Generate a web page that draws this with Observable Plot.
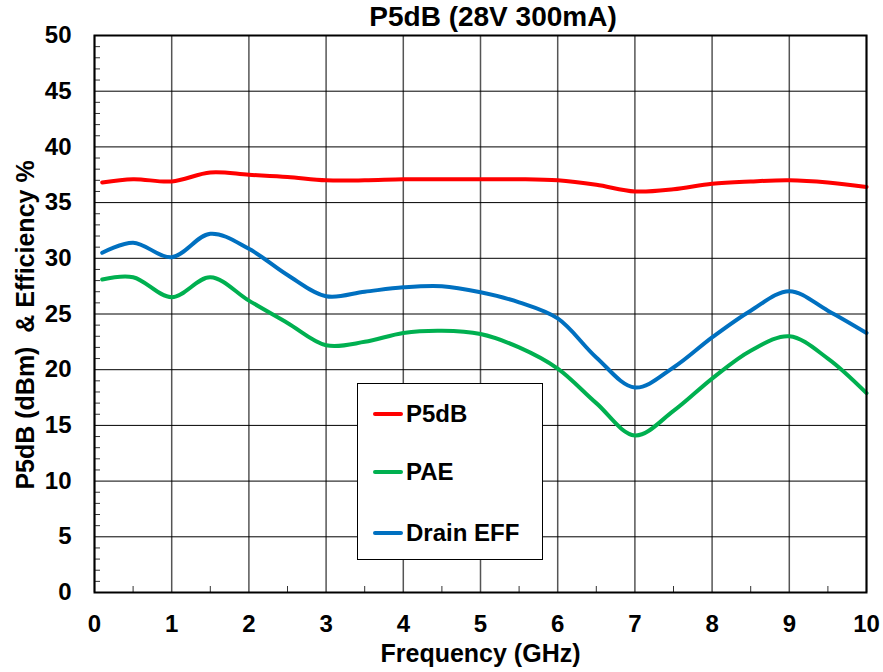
<!DOCTYPE html>
<html>
<head>
<meta charset="utf-8">
<script src="https://cdn.jsdelivr.net/npm/d3@7"></script>
<script src="https://cdn.jsdelivr.net/npm/@observablehq/plot@0.6"></script>
<style>
  html, body { margin: 0; padding: 0; background: #fff; }
  body { font-family: "Liberation Sans", Arial, sans-serif; }
  #wrap { position: relative; width: 883px; height: 672px; }
  #title { position: absolute; left: 493px; top: 3px; transform: translateX(-50%); font-size: 28px; font-weight: bold; line-height: 28px; white-space: nowrap; color: #000; }
  #legend { position: absolute; left: 357px; top: 383px; width: 184px; height: 175px; border: 1px solid #000; background: #fff; }
  .item { position: absolute; left: 0; height: 30px; }
  .swatch { position: absolute; left: 15px; top: 13px; width: 30px; height: 4px; border-radius: 2px; }
  .lab { position: absolute; left: 48px; top: 0; font-size: 24px; font-weight: bold; line-height: 30px; white-space: nowrap; color: #000; }
</style>
</head>
<body>
<div id="wrap">
  <div id="chart"></div>
  <div id="title"></div>
  <div id="legend"></div>
</div>
<script>
const titleText = "P5dB (28V 300mA)";
const xLabel = "Frequency (GHz)";
const yLabel = "P5dB (dBm)  & Efficiency %";
const seriesNames = ["P5dB", "PAE", "Drain EFF"];
const seriesColors = ["#FF0000", "#00B050", "#0070C0"];
const freq = [0.1, 0.5, 1, 1.5, 2, 2.5, 3, 3.5, 4, 4.5, 5, 5.5, 6, 6.5, 7, 7.5, 8, 8.5, 9, 9.5, 10];
const p5db = [36.8, 37.1, 36.9, 37.7, 37.5, 37.3, 37.0, 37.0, 37.1, 37.1, 37.1, 37.1, 37.0, 36.6, 36.0, 36.2, 36.7, 36.9, 37.0, 36.8, 36.4];
const pae = [28.1, 28.3, 26.5, 28.3, 26.2, 24.2, 22.2, 22.5, 23.3, 23.5, 23.2, 22.0, 20.1, 17.0, 14.1, 16.3, 19.2, 21.7, 23.0, 21.0, 17.9];
const drainEff = [30.5, 31.4, 30.1, 32.2, 30.85, 28.5, 26.6, 27.0, 27.4, 27.5, 26.95, 26.05, 24.6, 21.1, 18.4, 20.2, 22.9, 25.3, 27.05, 25.3, 23.3];
const xTicks = [0, 1, 2, 3, 4, 5, 6, 7, 8, 9, 10];
const xMinor = [0.5, 1.5, 2.5, 3.5, 4.5, 5.5, 6.5, 7.5, 8.5, 9.5];
const yTicks = [0, 5, 10, 15, 20, 25, 30, 35, 40, 45, 50];
const yMinor = d3.range(1, 50).filter(v => v % 5 !== 0);

const seriesValues = [p5db, pae, drainEff];
const rows = seriesNames.flatMap((name, i) => freq.map((f, j) => ({name, f, v: seriesValues[i][j]})));

const chart = Plot.plot({
  width: 883,
  height: 672,
  marginLeft: 94,
  marginRight: 17,
  marginTop: 35,
  marginBottom: 80,
  style: {fontFamily: "'Liberation Sans', Arial, sans-serif", background: "#fff", color: "#000"},
  x: {domain: [0, 10]},
  y: {domain: [0, 50]},
  color: {domain: seriesNames, range: seriesColors},
  marks: [
    Plot.gridX(xTicks, {stroke: "#555", strokeOpacity: 1, strokeWidth: 1.5}),
    Plot.gridY(yTicks, {stroke: "#000", strokeOpacity: 1, strokeWidth: 1}),
    Plot.axisY(yMinor, {tickSize: -6, text: null, label: null, stroke: "#333"}),
    Plot.axisX(xMinor, {tickSize: -6, text: null, label: null, stroke: "#333"}),
    Plot.axisY(yTicks, {tickSize: 0, tickPadding: 23, fontSize: 24, fontWeight: "bold", label: null}),
    Plot.axisX(xTicks, {tickSize: 0, tickPadding: 22, fontSize: 24, fontWeight: "bold", label: null}),
    Plot.line(rows, {x: "f", y: "v", z: "name", stroke: "name", strokeWidth: 4, curve: "catmull-rom"}),
    Plot.frame({stroke: "#000", strokeWidth: 2}),
    Plot.text([xLabel], {frameAnchor: "bottom", textAnchor: "middle", lineAnchor: "middle", dy: 61, fontSize: 25, fontWeight: "bold", fill: "#000"}),
    Plot.text([yLabel], {frameAnchor: "left", textAnchor: "middle", lineAnchor: "middle", rotate: -90, dx: -69, dy: 11, fontSize: 25, fontWeight: "bold", fill: "#000"})
  ]
});
document.getElementById("chart").appendChild(chart);
document.getElementById("title").textContent = titleText;

const legend = document.getElementById("legend");
const itemTops = [15, 73, 134];
seriesNames.forEach((name, i) => {
  const item = document.createElement("div");
  item.className = "item";
  item.style.top = itemTops[i] + "px";
  const sw = document.createElement("div");
  sw.className = "swatch";
  sw.style.background = seriesColors[i];
  const lab = document.createElement("div");
  lab.className = "lab";
  lab.textContent = name;
  item.appendChild(sw);
  item.appendChild(lab);
  legend.appendChild(item);
});
</script>
</body>
</html>
